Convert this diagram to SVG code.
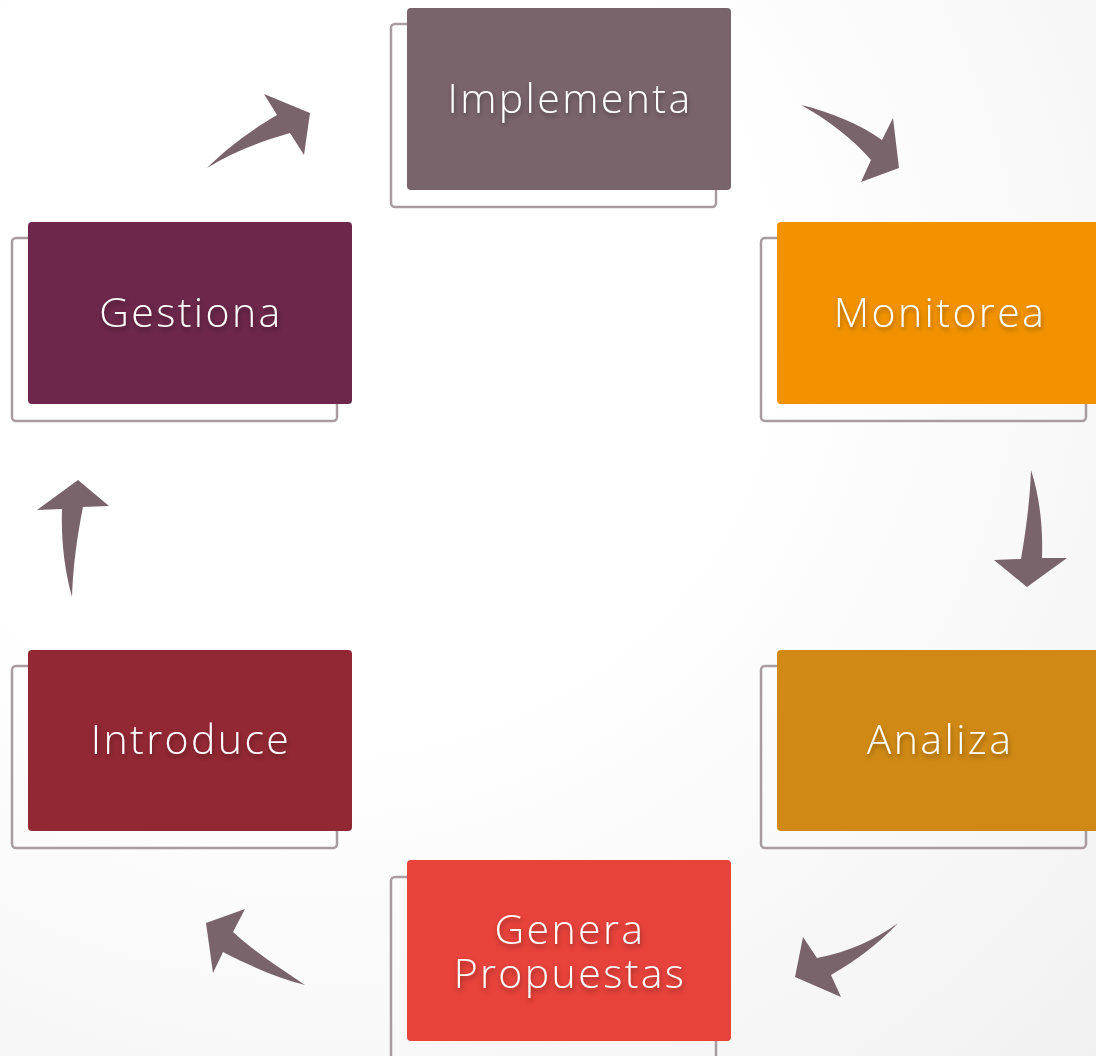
<svg xmlns="http://www.w3.org/2000/svg" width="1096" height="1056" viewBox="0 0 1096 1056">
<defs>
<radialGradient id="bg" cx="0.3" cy="0.3" r="1" gradientUnits="objectBoundingBox">
<stop offset="0.4" stop-color="#ffffff"/>
<stop offset="1" stop-color="#f1f1f1"/>
</radialGradient>
<filter id="ts" x="-20%" y="-40%" width="140%" height="180%">
<feDropShadow dx="1" dy="3" stdDeviation="2.5" flood-color="#000" flood-opacity="0.35"/>
</filter>
<style>
.ol{fill:none;stroke:#a99ca1;stroke-width:2.5}
.lb{fill:#fff;font-family:"Open Sans","Liberation Sans",sans-serif;font-size:41px;font-weight:300;text-anchor:middle;letter-spacing:2.4px;filter:url(#ts)}
.ar{fill:#79646c}
</style>
</defs>
<rect width="1096" height="1056" fill="url(#bg)"/>
<g id="connectors">
<path class="ar" d="M207,168 C230,145 255,128 277,115 L264,94 L310,113 L304,155 L290,133 C262,141 232,152 207,168 Z"/>
<path class="ar" d="M801,105 C830,112 860,124 882,140 L893,118 L899,168 L861,182 L871,160 C852,138 828,120 801,105 Z"/>
<path class="ar" d="M1031,470 C1040,498 1043,528 1042,558 L1067,558 L1027,587 L994,560 L1021,559 C1026,530 1030,500 1031,470 Z"/>
<path class="ar" d="M898,923 C875,940 848,952 817,958 L803,937 L795,977 L841,997 L831,975 C857,960 878,944 898,923 Z"/>
<path class="ar" d="M305,985 C280,968 255,952 233,932 L245,909 L206,923 L213,973 L223,952 C250,966 278,978 305,985 Z"/>
<path class="ar" d="M72,597 C64,568 61,538 62,509 L37,510 L78,480 L109,506 L83,507 C77,537 73,567 72,597 Z"/>
</g>
<g id="implementa">
<rect class="ol" x="391" y="24" width="325" height="183" rx="4"/>
<rect x="407" y="8" width="324" height="182" rx="4" fill="#79646c"/>
<text class="lb" x="570" y="113">Implementa</text>
</g>
<g id="monitorea">
<rect class="ol" x="761" y="238" width="325" height="183" rx="4"/>
<rect x="777" y="222" width="324" height="182" rx="4" fill="#f29200"/>
<text class="lb" x="940" y="327">Monitorea</text>
</g>
<g id="analiza">
<rect class="ol" x="761" y="666" width="325" height="182" rx="4"/>
<rect x="777" y="650" width="324" height="181" rx="4" fill="#d08914"/>
<text class="lb" x="940" y="754">Analiza</text>
</g>
<g id="genera">
<rect class="ol" x="391" y="877" width="325" height="182" rx="4"/>
<rect x="407" y="860" width="324" height="181" rx="4" fill="#e7423b"/>
<text class="lb"><tspan x="570" y="944">Genera</tspan><tspan x="570" y="988">Propuestas</tspan></text>
</g>
<g id="introduce">
<rect class="ol" x="12" y="666" width="325" height="182" rx="4"/>
<rect x="28" y="650" width="324" height="181" rx="4" fill="#922834"/>
<text class="lb" x="191" y="754">Introduce</text>
</g>
<g id="gestiona">
<rect class="ol" x="12" y="238" width="325" height="183" rx="4"/>
<rect x="28" y="222" width="324" height="182" rx="4" fill="#6c274a"/>
<text class="lb" x="191" y="327">Gestiona</text>
</g>
</svg>
